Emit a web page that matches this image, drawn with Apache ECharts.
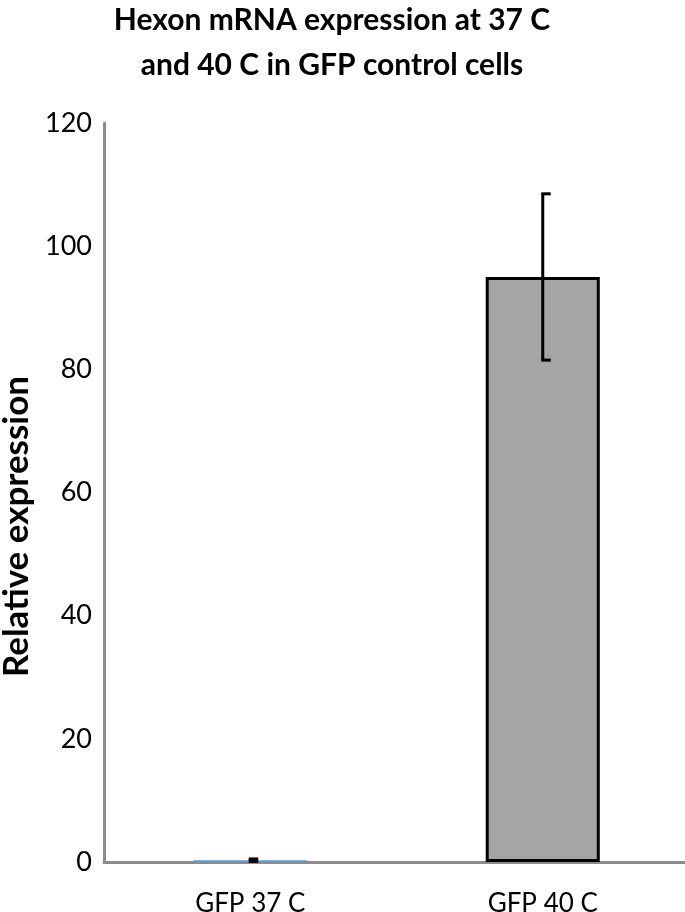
<!DOCTYPE html>
<html>
<head>
<meta charset="utf-8">
<script src="https://cdn.jsdelivr.net/npm/echarts@6/dist/echarts.min.js"></script>
<style>
  html, body { margin: 0; padding: 0; background: #fff; }
  #chart { width: 685px; height: 912px; }
</style>
</head>
<body>
<div id="chart"></div>
<script>
(function () {
    'use strict';

    var categories = ['GFP 37 C', 'GFP 40 C'];
    var values = [0.3, 95];
    var errLow = [0.1, 81.5];
    var errHigh = [0.5, 108.5];
    var barColors = ['#5b9bd5', '#a5a5a5'];
    var barBorders = [0, 3];

    var font = 'Lato, "Open Sans", sans-serif';

    var chart = echarts.init(document.getElementById('chart'));

    var barData = values.map(function (v, i) {
        return {
            value: v,
            itemStyle: {
                color: barColors[i],
                borderColor: '#000',
                borderWidth: barBorders[i]
            }
        };
    });

    var errData = categories.map(function (c, i) {
        return [i, errLow[i], errHigh[i]];
    });

    chart.setOption({
        animation: false,
        title: {
            text: 'Hexon mRNA expression at 37 C\nand 40 C in GFP control cells',
            left: 327,
            textAlign: 'center',
            top: -7,
            textStyle: {
                fontFamily: font,
                fontWeight: 'bold',
                fontSize: 30,
                lineHeight: 45,
                color: '#000'
            }
        },
        grid: { left: 104, right: -4, top: 123, bottom: 50, outerBoundsMode: 'none', containLabel: false },
        xAxis: {
            type: 'category',
            data: categories,
            axisLine: { lineStyle: { color: '#8c8c8c', width: 3 } },
            axisTick: { show: false },
            axisLabel: { fontFamily: font, fontSize: 26, color: '#000', margin: 29 }
        },
        yAxis: {
            type: 'value',
            min: 0,
            max: 120,
            interval: 20,
            name: 'Relative expression',
            nameLocation: 'middle',
            nameGap: 67,
            nameTextStyle: {
                fontFamily: font, fontWeight: 'bold', fontSize: 35, color: '#000',
                padding: [0, 0, 0, -68]
            },
            axisLine: { show: true, lineStyle: { color: '#8c8c8c', width: 3 } },
            axisTick: { show: false },
            splitLine: { show: false },
            axisLabel: { fontFamily: font, fontSize: 27, color: '#000', margin: 12 }
        },
        series: [
            {
                type: 'bar',
                data: barData,
                barWidth: '39%'
            },
            {
                type: 'custom',
                data: errData,
                z: 10,
                renderItem: function (params, api) {
                    var x = api.coord([api.value(0), 0])[0];
                    var lo = api.coord([api.value(0), api.value(1)])[1];
                    var hi = api.coord([api.value(0), api.value(2)])[1];
                    var style = { stroke: '#000', lineWidth: 3 };
                    return {
                        type: 'group',
                        children: [
                            { type: 'line', shape: { x1: x, y1: lo, x2: x, y2: hi }, style: style },
                            { type: 'line', shape: { x1: x - 1.5, y1: hi, x2: x + 8, y2: hi }, style: style },
                            { type: 'line', shape: { x1: x - 1.5, y1: lo, x2: x + 8, y2: lo }, style: style }
                        ]
                    };
                }
            }
        ]
    });
})();
</script>
</body>
</html>
